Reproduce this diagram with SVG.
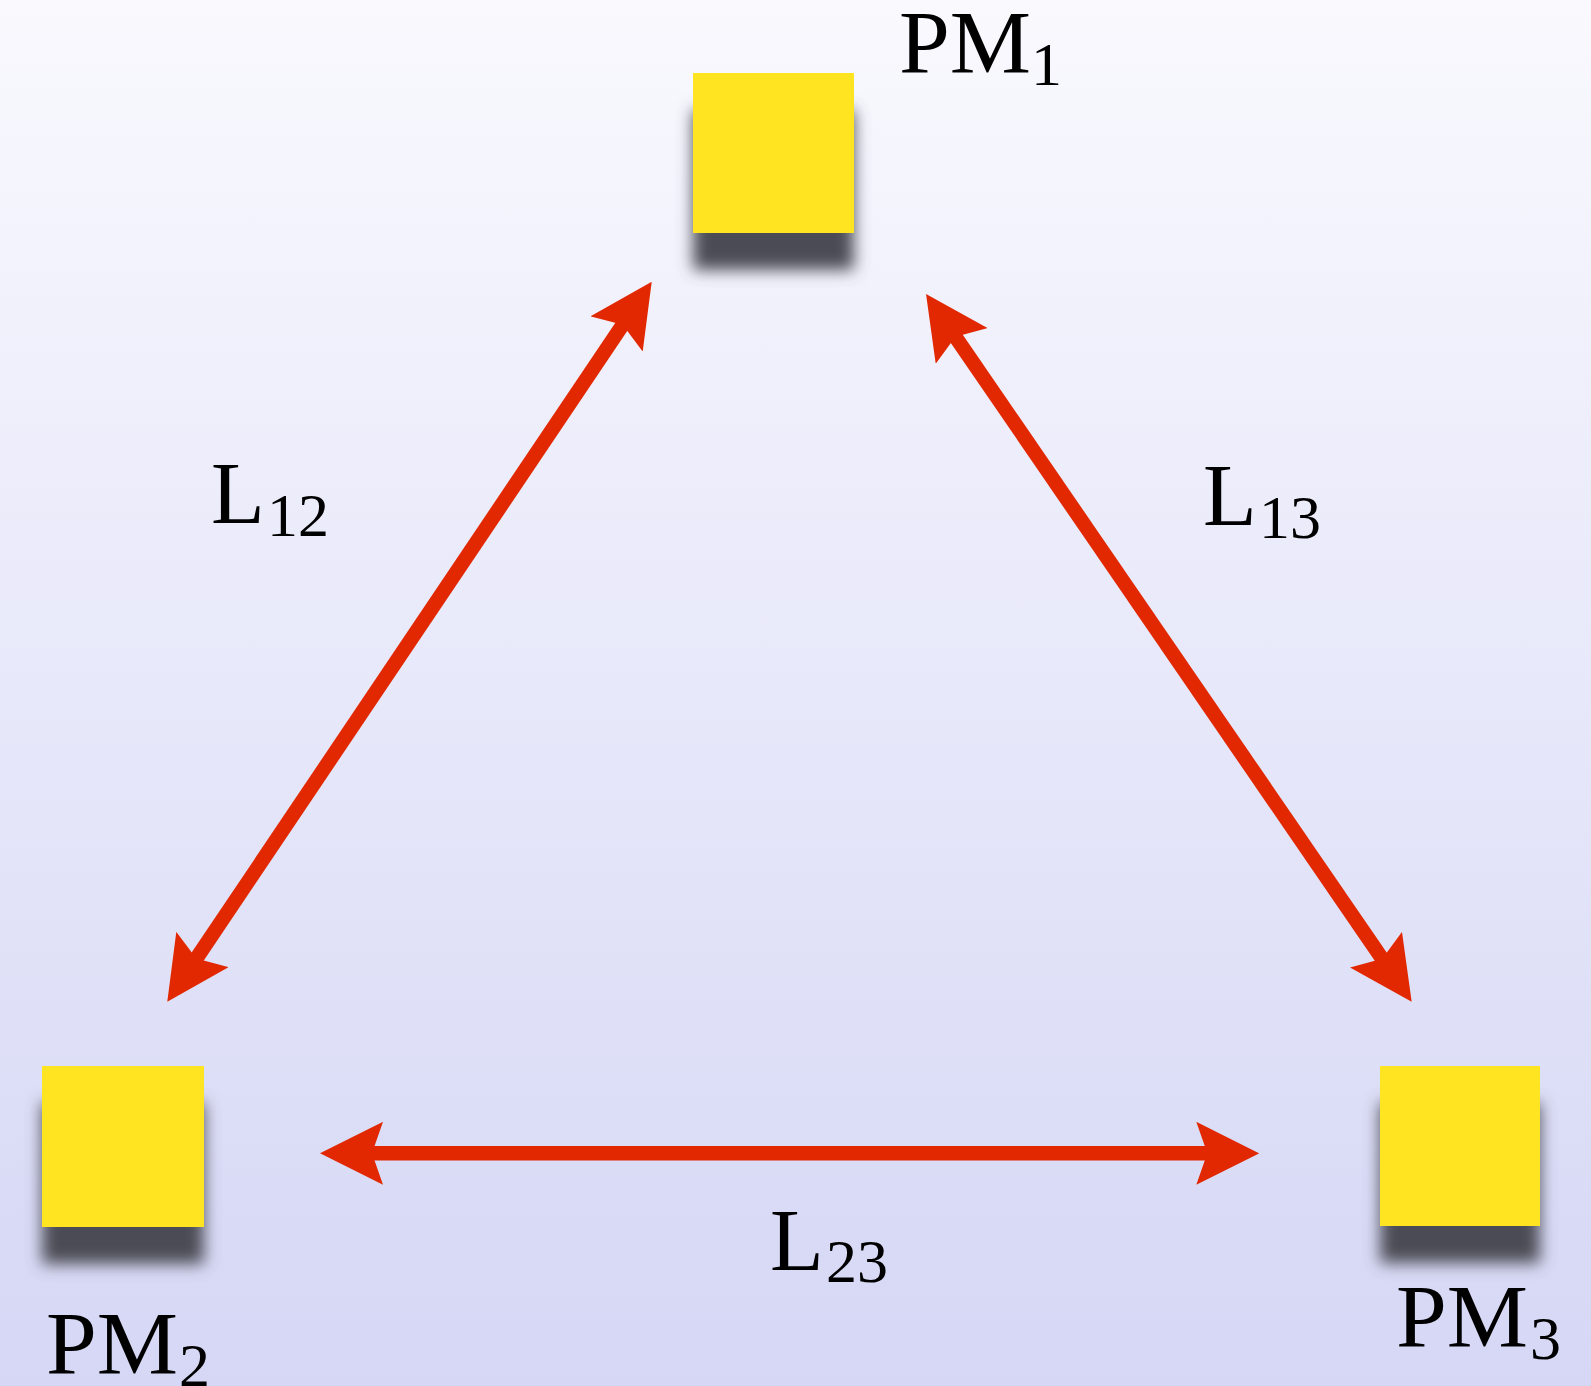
<svg xmlns="http://www.w3.org/2000/svg" width="1591" height="1386" viewBox="0 0 1591 1386">
  <defs>
    <linearGradient id="bg" x1="0" y1="0" x2="0" y2="1">
      <stop offset="0" stop-color="#f9f9fe"/>
      <stop offset="1" stop-color="#d5d7f5"/>
    </linearGradient>
    <filter id="shadow" x="-30%" y="-30%" width="160%" height="190%">
      <feGaussianBlur in="SourceAlpha" stdDeviation="8" result="b"/>
      <feOffset in="b" dx="0" dy="37" result="o"/>
      <feFlood flood-color="#4b4c55"/>
      <feComposite in2="o" operator="in" result="s"/>
      <feMerge>
        <feMergeNode in="s"/>
        <feMergeNode in="SourceGraphic"/>
      </feMerge>
    </filter>
    <marker id="head" viewBox="0 0 63 63" refX="18" refY="31.5" markerWidth="63" markerHeight="63" markerUnits="userSpaceOnUse" orient="auto-start-reverse">
      <path d="M0,0 L63,31.5 L0,63 L11,31.5 Z" fill="#e22800"/>
    </marker>
  </defs>
  <style>
    .box { fill: #ffe424; filter: url(#shadow); }
    .lbl { font-family: "Liberation Serif", "Times New Roman", serif; font-size: 88px; fill: #000; }
    .sub { font-family: "Liberation Serif", "Times New Roman", serif; font-size: 62px; fill: #000; }
    .conn { stroke: #e22800; stroke-width: 14.5; fill: none; marker-start: url(#head); marker-end: url(#head); }
  </style>
  <rect x="0" y="0" width="1591" height="1386" fill="url(#bg)"/>

  <g id="connectors">
    <line id="L12" class="conn" x1="192.4" y1="964.4" x2="626.6" y2="319.0"/>
    <line id="L13" class="conn" x1="951.5" y1="331.1" x2="1386.2" y2="964.6"/>
    <line id="L23" class="conn" x1="365" y1="1153.3" x2="1214.3" y2="1153.3"/>
    <text class="lbl" x="211" y="523">L</text><text class="sub" x="267" y="536">12</text>
    <text class="lbl" x="1203" y="525">L</text><text class="sub" x="1259" y="538">13</text>
    <text class="lbl" x="770" y="1270">L</text><text class="sub" x="826" y="1282">23</text>
  </g>

  <g id="PM1">
    <rect class="box" x="693" y="73" width="161" height="160"/>
    <text class="lbl" x="899" y="72" textLength="132" lengthAdjust="spacingAndGlyphs">PM</text>
    <text class="sub" x="1031" y="85">1</text>
  </g>
  <g id="PM2">
    <rect class="box" x="42" y="1066" width="162" height="161"/>
    <text class="lbl" x="46" y="1373" textLength="132" lengthAdjust="spacingAndGlyphs">PM</text>
    <text class="sub" x="179" y="1386">2</text>
  </g>
  <g id="PM3">
    <rect class="box" x="1380" y="1066" width="160" height="160"/>
    <text class="lbl" x="1396" y="1346" textLength="132" lengthAdjust="spacingAndGlyphs">PM</text>
    <text class="sub" x="1530" y="1359">3</text>
  </g>
</svg>
